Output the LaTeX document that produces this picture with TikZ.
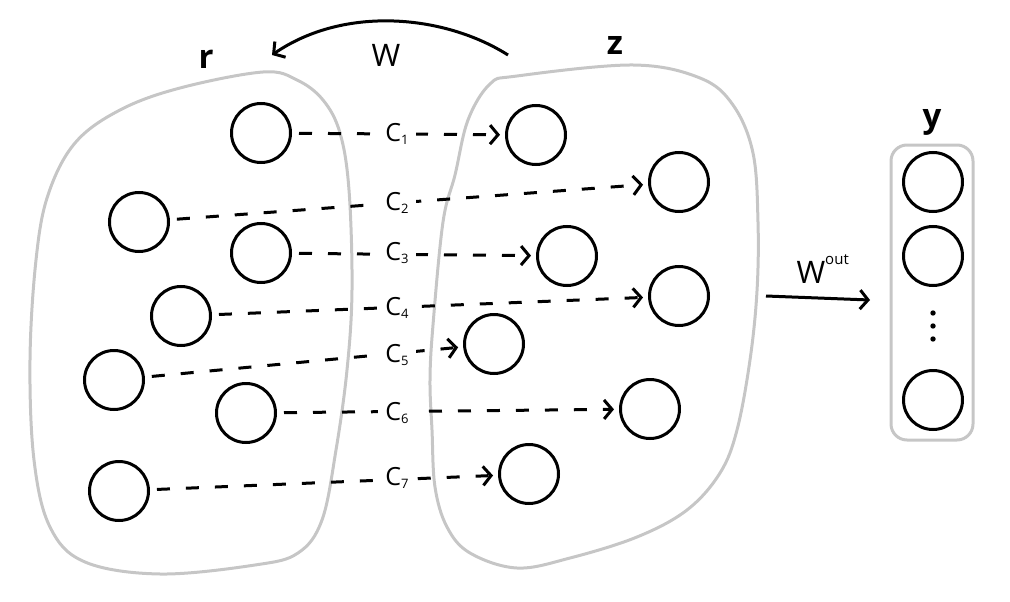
\documentclass[tikz,border=0pt]{standalone}
\usepackage{fontspec}
\setmainfont{Open Sans}
\usetikzlibrary{arrows.meta}
\definecolor{blobgray}{RGB}{198,198,198}
\tikzset{
  neuron/.style={circle,draw=black,line width=3pt,minimum size=59pt,inner sep=0pt},
  blob/.style={draw=blobgray,line width=3pt},
  conn/.style={line width=3pt,dash pattern=on 13pt off 16pt,-{Straight Barb[length=8pt,width=19pt]},shorten <=7pt,shorten >=5pt},
  clabel/.style={fill=white,inner ysep=2pt,inner xsep=7pt,font=\fontsize{25}{25}\selectfont},
  setlabel/.style={font=\fontsize{33}{33}\selectfont\bfseries,anchor=base},
  warrow/.style={line width=3pt,-{Straight Barb[length=8pt,width=19pt]}},
  wlabel/.style={font=\fontsize{31}{31}\selectfont}
}
\newcommand{\csub}[1]{C\raisebox{-3pt}{\fontsize{13}{13}\selectfont #1}}
\begin{document}
\begin{tikzpicture}[x=1pt,y=-1pt]
\useasboundingbox (0,0) rectangle (1010,602);
% blobs
\draw[blob] plot[smooth cycle,tension=0.6] coordinates {
 (263,72) (297,80) (323,100) (340,133) (349,190) (352,290) (347,370)
 (336,450) (322,520) (298,553) (255,565) (160,574) (85,562) (50,527)
 (34,460) (30,360) (36,260) (48,195) (75,143) (120,110) (180,88)};
\draw[blob] plot[smooth cycle,tension=0.6] coordinates {
 (517,76) (633,65) (700,78) (733,105) (753,153) (758,222) (757,291)
 (750,360) (737,430) (720,473) (687,510) (637,537) (570,558) (517,568)
 (470,553) (447,527) (435,487) (432,430) (430,380) (433,325) (443,222)
 (455,175) (468,120) (490,84)};
\draw[blob,rounded corners=16pt] (891,145) rectangle (973,440);
% r nodes
\node[neuron] (r1) at (261,133) {};
\node[neuron] (r2) at (139,222) {};
\node[neuron] (r3) at (261,253) {};
\node[neuron] (r4) at (181,316) {};
\node[neuron] (r5) at (114,380) {};
\node[neuron] (r6) at (246,413) {};
\node[neuron] (r7) at (119,491) {};
% z nodes
\node[neuron] (z1) at (536,135) {};
\node[neuron] (z2) at (679,182) {};
\node[neuron] (z3) at (567,256) {};
\node[neuron] (z4) at (679,296) {};
\node[neuron] (z5) at (494,344) {};
\node[neuron] (z6) at (650,409) {};
\node[neuron] (z7) at (529,474) {};
% y nodes
\node[neuron] (y1) at (933,182) {};
\node[neuron] (y2) at (933,256) {};
\node[neuron] (y3) at (933,400) {};
\fill (933,313) circle (2.7pt) (933,326) circle (2.7pt) (933,339) circle (2.7pt);
% connectors
\draw[conn] (r1) -- (z1);
\draw[conn] (r2) -- (z2);
\draw[conn] (r3) -- (z3);
\draw[conn] (r4) -- (z4);
\draw[conn] (r5) -- (z5);
\draw[conn] (r6) -- (z6);
\draw[conn] (r7) -- (z7);
\node[clabel] (c1) at (397,134) {\csub{1}};
\node[clabel] (c2) at (397,203) {\csub{2}};
\node[clabel] (c3) at (397,253) {\csub{3}};
\node[clabel] (c4) at (397,308) {\csub{4}};
\node[clabel] (c5) at (397,355) {\csub{5}};
\node[clabel] (c6) at (397,413) {\csub{6}};
\node[clabel] (c7) at (397,478) {\csub{7}};
% set labels
\node[setlabel] (rl) at (206,69) {r};
\node[setlabel] (zl) at (615,55) {z};
\node[setlabel] (yl) at (932,127) {y};
% W feedback
\coordinate (ws) at (508,55);
\coordinate (we) at (272,55);
\draw[warrow] (ws) .. controls (445,15) and (345,5) .. (we);
\node[wlabel] (wl) at (386,55) {W};
% W out
\coordinate (wo1) at (766,296);
\coordinate (wo2) at (870,300);
\draw[warrow] (wo1) -- (wo2);
\node[wlabel,anchor=base west] (wol) at (793,283) {W\raisebox{19pt}{\fontsize{15}{15}\selectfont out}};
\end{tikzpicture}
\end{document}
